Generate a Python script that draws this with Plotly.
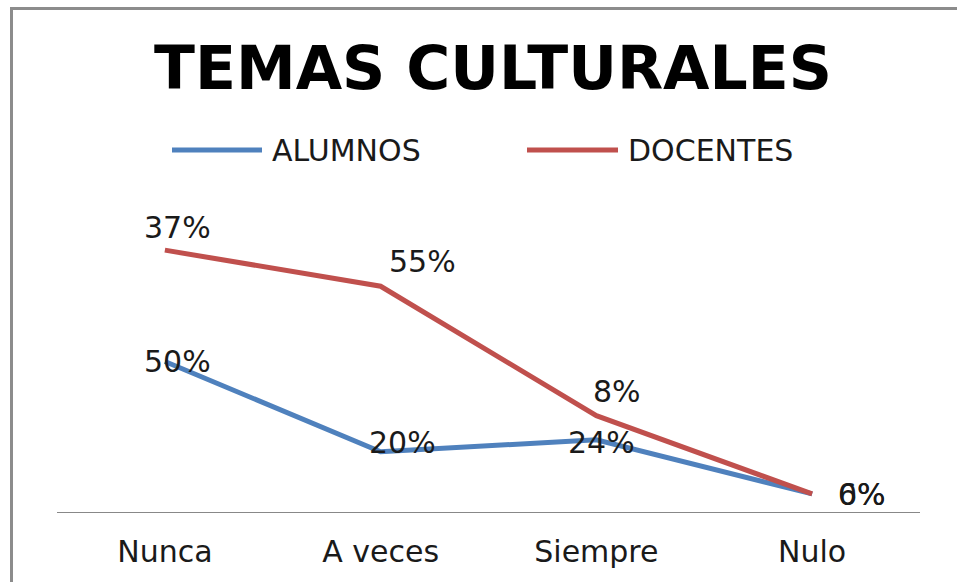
import plotly.graph_objects as go
import numpy as np

categories = ["Nunca", "A veces", "Siempre", "Nulo"]
alumnos = [50, 20, 24, 6]
docentes = [37, 55, 8, 0]
series_names = ["ALUMNOS", "DOCENTES"]
colors = ["#4F81BD", "#C0504D"]

FONT = "DejaVu Sans"
L, R, T, B = 57, 37, 214, 70
W, H = 957, 582
PW, PH = W - L - R, H - T - B

def px_x(p):
    return (p - L) / PW

def px_y(p):
    return (H - B - p) / PH

fig = go.Figure()
for name, vals, col in zip(series_names, [alumnos, docentes], colors):
    fig.add_trace(go.Scatter(
        x=categories, y=vals, name=name, mode="lines",
        stackgroup="one", fill="none",
        line=dict(color=col, width=5),
        showlegend=False, hoverinfo="x+y+name",
    ))

# data labels (stacked positions computed from data)
cum_blue = np.array(alumnos)
cum_red = cum_blue + np.array(docentes)
blue_off = [(13, 0), (22, 9), (5, -3), (50, -1)]
red_off = [(13, 23), (42, 25), (21, 24), (50, -1)]
annotations = []
for vals, cum, offs in [(alumnos, cum_blue, blue_off), (docentes, cum_red, red_off)]:
    for c, v, yv, (dx, dy) in zip(categories, vals, cum, offs):
        annotations.append(dict(
            x=c, y=float(yv), xref="x", yref="y", text=f"{v}%",
            showarrow=False, xshift=dx, yshift=dy,
            font=dict(family=FONT, size=30, color="#1a1a1a"),
            xanchor="center", yanchor="middle",
        ))

# legend drawn manually
shapes = []
leg = [(172, 262, 270), (527, 618, 626)]
for (x0, x1, tx), name, col in zip(leg, series_names, colors):
    shapes.append(dict(type="line", xref="paper", yref="paper",
                       x0=px_x(x0), x1=px_x(x1), y0=px_y(150), y1=px_y(150),
                       line=dict(color=col, width=5)))
    annotations.append(dict(x=px_x(tx), y=px_y(150), xref="paper", yref="paper",
                            text=name, showarrow=False, xanchor="left", yanchor="middle",
                            font=dict(family=FONT, size=30, color="#1a1a1a")))

# outer border (left and top)
shapes.append(dict(type="line", xref="paper", yref="paper",
                   x0=px_x(11.5), x1=px_x(11.5), y0=px_y(8.5), y1=px_y(600),
                   line=dict(color="#8c8c8c", width=3)))
shapes.append(dict(type="line", xref="paper", yref="paper",
                   x0=px_x(10), x1=px_x(980), y0=px_y(8.5), y1=px_y(8.5),
                   line=dict(color="#8c8c8c", width=3)))

fig.update_layout(
    width=W, height=H,
    margin=dict(l=L, r=R, t=T, b=B, pad=0),
    paper_bgcolor="white", plot_bgcolor="white",
    title=dict(text="<b>TEMAS CULTURALES</b>", x=493 / W, xanchor="center",
               y=1 - 68 / H, yanchor="middle",
               font=dict(family=FONT, size=60, color="#000000")),
    xaxis=dict(type="category", range=[-0.5, 3.5], showgrid=False,
               showline=True, linecolor="#888888", linewidth=1,
               ticks="", ticklabelstandoff=13,
               tickfont=dict(family=FONT, size=30, color="#1a1a1a"),
               zeroline=False, fixedrange=True, automargin=False),
    yaxis=dict(range=[0, 99], visible=False, showgrid=False, zeroline=False,
               automargin=False),
    annotations=annotations,
    shapes=shapes,
    showlegend=False,
)

fig.write_html(
    "out.html",
    config={"displayModeBar": False},
    post_script="document.body.style.margin='0';document.body.style.overflow='hidden';document.documentElement.style.overflow='hidden';",
)
